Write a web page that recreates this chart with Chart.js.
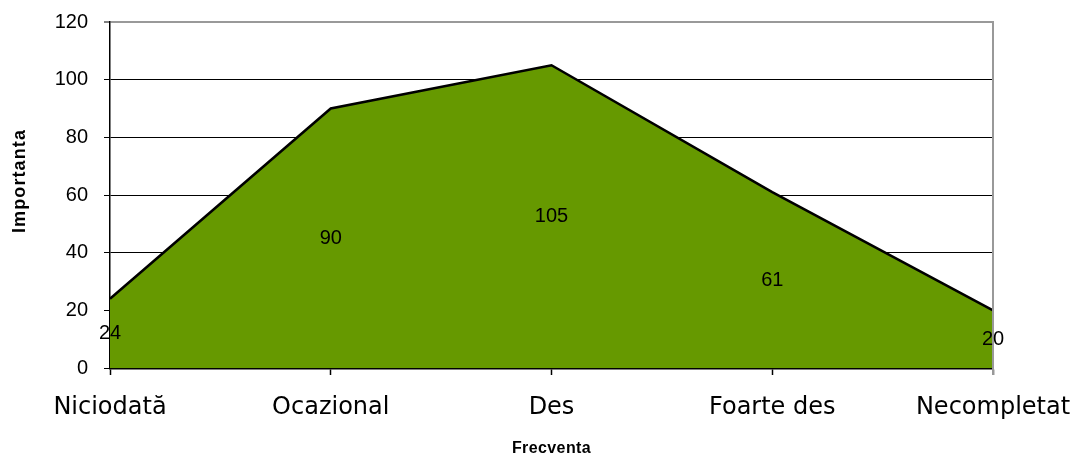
<!DOCTYPE html>
<html>
<head>
<meta charset="utf-8">
<script src="https://cdn.jsdelivr.net/npm/chart.js@4/dist/chart.umd.min.js"></script>
<style>
html,body{margin:0;padding:0;background:#fff;}
#wrap{width:1073px;height:458px;}
</style>
</head>
<body>
<div id="wrap"><canvas id="c" width="1073" height="458"></canvas></div>
<script>
const categories = ['Niciodată', 'Ocazional', 'Des', 'Foarte des', 'Necompletat'];
const values = [24, 90, 105, 61, 20];
const yTicks = [0, 20, 40, 60, 80, 100, 120];
const xTitle = 'Frecventa';
const yTitle = 'Importanta';

const extras = {
  id: 'extras',
  afterDatasetsDraw(chart) {
    const ctx = chart.ctx;
    const ys = chart.scales.y;
    const area = chart.chartArea;
    const meta = chart.getDatasetMeta(0);
    ctx.save();
    // right border
    ctx.strokeStyle = '#999999';
    ctx.lineWidth = 2;
    ctx.beginPath();
    ctx.moveTo(area.right, area.top - 1);
    ctx.lineTo(area.right, area.bottom + 7);
    ctx.stroke();
    // data labels
    ctx.fillStyle = '#000';
    ctx.font = '20px "Liberation Sans", Arial, sans-serif';
    ctx.textAlign = 'center';
    ctx.textBaseline = 'middle';
    values.forEach((v, i) => {
      const p = meta.data[i];
      ctx.fillText(String(v), p.x, ys.getPixelForValue(v / 2));
    });
    // axis titles
    ctx.font = 'bold 16px "Liberation Sans", Arial, sans-serif';
    ctx.letterSpacing = '0.4px';
    ctx.fillText(xTitle, (area.left + area.right) / 2, 449);
    ctx.font = 'bold 18px "Liberation Sans", Arial, sans-serif';
    ctx.letterSpacing = '1.1px';
    ctx.translate(20, 181);
    ctx.rotate(-Math.PI / 2);
    ctx.fillText(yTitle, 0, 0);
    ctx.restore();
  }
};

new Chart(document.getElementById('c'), {
  type: 'line',
  data: {
    labels: categories,
    datasets: [{
      data: values,
      fill: 'origin',
      backgroundColor: '#669900',
      borderColor: '#000000',
      borderWidth: 2.5,
      tension: 0,
      pointRadius: 0,
      pointHoverRadius: 0
    }]
  },
  options: {
    responsive: false,
    animation: false,
    events: [],
    layout: { padding: { top: 22, right: 80, left: 0, bottom: 0 } },
    plugins: { legend: { display: false }, tooltip: { enabled: false } },
    scales: {
      x: {
        type: 'category',
        offset: false,
        afterFit(s) { s.height = 90; s.paddingLeft = 0; s.paddingRight = 0; s.paddingTop = 0; s.paddingBottom = 0; },
        grid: {
          drawOnChartArea: false,
          drawTicks: true,
          tickLength: 7,
          tickColor: (c) => c.index === categories.length - 1 ? '#999999' : '#000000',
          tickWidth: (c) => c.index === categories.length - 1 ? 2 : 1.5
        },
        border: { display: true, color: '#000000', width: 2.5 },
        ticks: {
          color: '#000',
          padding: 18,
          maxRotation: 0,
          autoSkip: false,
          font: { family: '"DejaVu Sans", sans-serif', size: 24 }
        }
      },
      y: {
        min: 0,
        max: 120,
        afterFit(s) { s.width = 110; s.paddingLeft = 0; s.paddingRight = 0; s.paddingTop = 0; s.paddingBottom = 0; },
        afterBuildTicks(s) { s.ticks = yTicks.map(v => ({ value: v })); },
        grid: {
          color: (c) => c.tick && c.tick.value === 120 ? '#999999' : '#000000',
          lineWidth: (c) => c.tick && c.tick.value === 120 ? 2 : 1,
          tickColor: '#000000',
          tickLength: 6,
          tickWidth: 1
        },
        border: { display: true, color: '#000000', width: 1.5 },
        ticks: {
          color: '#000',
          padding: 16,
          font: { family: '"Liberation Sans", Arial, sans-serif', size: 20 }
        }
      }
    }
  },
  plugins: [extras]
});
</script>
</body>
</html>
